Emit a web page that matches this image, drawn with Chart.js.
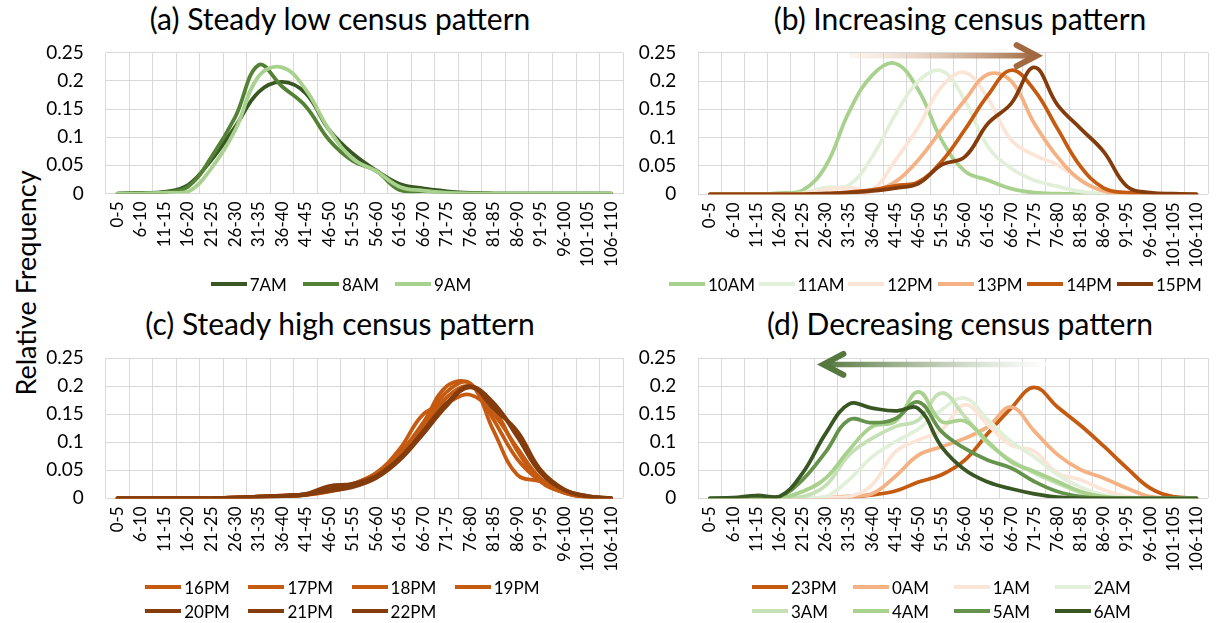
<!DOCTYPE html>
<html>
<head>
<meta charset="utf-8">
<script src="https://cdn.jsdelivr.net/npm/chart.js@4/dist/chart.umd.min.js"></script>
<style>
  html, body { margin:0; padding:0; background:#fff; }
  body { width:1225px; height:623px; overflow:hidden; position:relative; font-family:Lato, "Open Sans", sans-serif; color:#000; }
  canvas { position:absolute; }
  .title { position:absolute; width:640px; text-align:center; font-size:30px; line-height:36px; white-space:nowrap; }
  .ylab { position:absolute; font-size:27px; white-space:nowrap; transform:translate(-50%,-50%) rotate(-90deg); }
  .legend { position:absolute; display:grid; font-size:17px; }
  .li { display:flex; align-items:center; white-space:nowrap; }
  .sw { display:inline-block; width:36px; height:4px; margin-right:3px; }
</style>
</head>
<body>
<div class="title" id="tA">(a) Steady low census pattern</div>
<div class="title" id="tB">(b) Increasing census pattern</div>
<div class="title" id="tC">(c) Steady high census pattern</div>
<div class="title" id="tD">(d) Decreasing census pattern</div>
<div class="ylab" style="left:25px;top:283px;">Relative Frequency</div>
<canvas id="cA"></canvas>
<canvas id="cB"></canvas>
<canvas id="cC"></canvas>
<canvas id="cD"></canvas>
<div class="legend" id="lA"></div>
<div class="legend" id="lB"></div>
<div class="legend" id="lC"></div>
<div class="legend" id="lD"></div>
<script>
// ---------- data ----------
const categories = ['0-5','6-10','11-15','16-20','21-25','26-30','31-35','36-40','41-45','46-50','51-55',
  '56-60','61-65','66-70','71-75','76-80','81-85','86-90','91-95','96-100','101-105','106-110'];
const yTickLabels = ['0','0.05','0.1','0.15','0.2','0.25'];

// (a) Steady low census pattern
const namesA = ['7AM','8AM','9AM'];
const colorsA = ['#385723','#548235','#A9D18E'];
const a7AM = [0,0.001,0.003,0.015,0.06,0.118,0.18,0.198,0.178,0.113,0.071,0.041,0.017,0.009,0.004,0.001,0,0,0,0,0,0];
const a8AM = [0,0.001,0.002,0.012,0.065,0.135,0.228,0.19,0.155,0.095,0.058,0.04,0.006,0.004,0.002,0.001,0,0,0,0,0,0];
const a9AM = [0,0,0.001,0.003,0.045,0.112,0.208,0.224,0.185,0.113,0.062,0.04,0.012,0.005,0.001,0,0,0,0,0,0,0];

// (b) Increasing census pattern
const namesB = ['10AM','11AM','12PM','13PM','14PM','15PM'];
const colorsB = ['#A9D18E','#E2F0D9','#FBE5D6','#F4B183','#C55A11','#843C0C'];
const b10AM = [0,0,0,0.002,0.007,0.05,0.145,0.21,0.231,0.184,0.096,0.041,0.025,0.01,0.003,0.001,0,0,0,0,0,0];
const b11AM = [0,0,0,0,0.002,0.012,0.016,0.066,0.14,0.2,0.218,0.166,0.084,0.046,0.025,0.014,0.005,0.001,0,0,0,0];
const b12PM = [0,0,0,0,0.001,0.008,0.012,0.008,0.06,0.119,0.19,0.215,0.169,0.096,0.069,0.052,0.025,0.005,0,0,0,0];
const b13PM = [0,0,0,0,0,0.001,0.002,0.006,0.022,0.061,0.114,0.166,0.212,0.2,0.125,0.066,0.025,0.006,0.001,0,0,0];
const b14PM = [0,0,0,0,0,0.001,0.004,0.008,0.015,0.022,0.058,0.114,0.175,0.219,0.184,0.116,0.049,0.011,0.003,0.001,0,0];
const b15PM = [0,0,0,0,0,0.001,0.003,0.006,0.011,0.019,0.052,0.066,0.125,0.16,0.224,0.158,0.116,0.075,0.014,0.003,0.001,0];

// (c) Steady high census pattern
const namesC = ['16PM','17PM','18PM','19PM','20PM','21PM','22PM'];
const colorsC = ['#C55A11','#C55A11','#C55A11','#C55A11','#843C0C','#843C0C','#843C0C'];
const c16PM = [0,0,0,0,0,0.001,0.003,0.004,0.006,0.013,0.022,0.04,0.08,0.135,0.2,0.205,0.14,0.07,0.03,0.01,0.002,0];
const c17PM = [0,0,0,0,0,0.001,0.003,0.004,0.006,0.014,0.026,0.045,0.088,0.15,0.17,0.185,0.15,0.09,0.035,0.012,0.003,0];
const c18PM = [0,0,0,0,0,0.001,0.002,0.004,0.006,0.012,0.022,0.042,0.08,0.13,0.19,0.205,0.12,0.042,0.03,0.01,0.002,0];
const c19PM = [0,0,0,0,0,0.001,0.003,0.005,0.007,0.015,0.025,0.045,0.078,0.125,0.18,0.2,0.16,0.085,0.03,0.01,0.002,0];
const c20PM = [0,0,0,0,0,0.001,0.003,0.005,0.008,0.022,0.026,0.04,0.072,0.12,0.17,0.2,0.16,0.12,0.05,0.015,0.004,0];
const c21PM = [0,0,0,0,0,0.001,0.003,0.004,0.006,0.016,0.022,0.038,0.07,0.118,0.168,0.198,0.17,0.11,0.045,0.015,0.003,0];
const c22PM = [0,0,0,0,0,0.001,0.002,0.004,0.007,0.013,0.02,0.036,0.068,0.115,0.165,0.2,0.168,0.115,0.05,0.016,0.004,0];

// (d) Decreasing census pattern
const namesD = ['23PM','0AM','1AM','2AM','3AM','4AM','5AM','6AM'];
const colorsD = ['#C55A11','#F4B183','#FBE5D6','#E2F0D9','#C5E0B4','#A9D18E','#65934B','#385723'];
const d23PM = [0,0,0,0,0,0,0.002,0.006,0.013,0.029,0.042,0.068,0.116,0.161,0.198,0.163,0.13,0.093,0.054,0.018,0.003,0];
const d0AM  = [0,0,0,0,0,0.001,0.004,0.008,0.039,0.077,0.092,0.107,0.128,0.163,0.12,0.078,0.051,0.036,0.018,0.003,0,0];
const d1AM  = [0,0,0,0,0,0.001,0.003,0.024,0.083,0.104,0.122,0.167,0.131,0.095,0.084,0.045,0.033,0.015,0.003,0,0,0];
const d2AM  = [0,0,0,0,0,0.003,0.033,0.074,0.101,0.124,0.158,0.179,0.14,0.101,0.074,0.042,0.02,0.006,0.001,0,0,0];
const d3AM  = [0,0,0,0,0.003,0.023,0.077,0.107,0.128,0.14,0.188,0.146,0.098,0.068,0.045,0.027,0.01,0.002,0,0,0,0];
const d4AM  = [0,0,0,0,0.012,0.036,0.086,0.128,0.137,0.19,0.137,0.138,0.101,0.065,0.048,0.03,0.012,0.003,0,0,0,0];
const d5AM  = [0,0,0,0.003,0.033,0.083,0.14,0.135,0.142,0.172,0.119,0.089,0.068,0.054,0.03,0.012,0.003,0,0,0,0,0];
const d6AM  = [0,0.001,0.005,0.003,0.045,0.116,0.168,0.161,0.156,0.16,0.092,0.051,0.029,0.017,0.008,0.002,0,0,0,0,0,0];

// arrows (in category-index / value units)
const arrowB = { from: 6.0, to: 14.1, y: 0.2447, tail: 'rgba(251,229,214,0.35)', head: '#A1693F' };
const arrowD = { from: 14.5, to: 4.9, y: 0.239, tail: 'rgba(255,255,255,0.6)', head: '#56783F' };

// ---------- layout ----------
const Y_W = 60, X_H = 80;
const panels = {
  A: { canvas:{x:0,   y:0,   w:640, h:290}, plot:{L:105.7, R:627,    T:52.7,  B:193.5} },
  B: { canvas:{x:630, y:0,   w:595, h:290}, plot:{L:698.3, R:1220.7, T:52.7,  B:194.3} },
  C: { canvas:{x:0,   y:300, w:640, h:290}, plot:{L:105.7, R:627,    T:358.3, B:498.3} },
  D: { canvas:{x:630, y:300, w:595, h:290}, plot:{L:698.3, R:1220.7, T:358.3, B:498.3} }
};

const arrowPlugin = {
  id: 'arrow',
  afterDatasetsDraw(chart, args, opts) {
    if (!opts || opts.y === undefined) return;
    const xs = chart.scales.x, ys = chart.scales.y, ctx = chart.ctx;
    const x1 = xs.getPixelForValue(opts.from), x2 = xs.getPixelForValue(opts.to);
    const y = ys.getPixelForValue(opts.y);
    const dir = x2 > x1 ? 1 : -1;
    ctx.save();
    const g = ctx.createLinearGradient(x1, 0, x2, 0);
    g.addColorStop(0, opts.tail);
    g.addColorStop(1, opts.head);
    ctx.strokeStyle = g;
    ctx.lineWidth = 5.5;
    ctx.lineCap = 'butt';
    ctx.beginPath(); ctx.moveTo(x1, y); ctx.lineTo(x2 - dir * 3, y); ctx.stroke();
    ctx.strokeStyle = opts.head;
    ctx.lineWidth = 6;
    ctx.lineCap = 'round'; ctx.lineJoin = 'miter';
    ctx.beginPath();
    ctx.moveTo(x2 - dir * 20, y - 10.5);
    ctx.lineTo(x2, y);
    ctx.lineTo(x2 - dir * 20, y + 10.5);
    ctx.stroke();
    ctx.restore();
  }
};

function buildChart(key, names, colors, values, arrow) {
  const p = panels[key];
  const cv = document.getElementById('c' + key);
  cv.width = p.canvas.w; cv.height = p.canvas.h;
  cv.style.left = p.canvas.x + 'px'; cv.style.top = p.canvas.y + 'px';
  const datasets = names.map((n, i) => ({
    label: n, data: values[i], borderColor: colors[i], backgroundColor: colors[i],
    borderWidth: 3.75, pointRadius: 0, tension: 0.4, fill: false,
    borderJoinStyle: 'round', borderCapStyle: 'round', order: -i
  }));
  return new Chart(cv, {
    type: 'line',
    data: { labels: categories, datasets },
    options: {
      responsive: false, animation: false, events: [],
      layout: { padding: {
        left: p.plot.L - p.canvas.x - Y_W,
        right: p.canvas.x + p.canvas.w - p.plot.R,
        top: p.plot.T - p.canvas.y,
        bottom: p.canvas.y + p.canvas.h - p.plot.B - X_H } },
      plugins: { legend: { display: false }, title: { display: false }, tooltip: { enabled: false },
                 arrow: arrow || {} },
      scales: {
        x: { offset: true,
             grid: { color: '#D9D9D9', lineWidth: 1, drawTicks: false, offset: true },
             border: { display: false },
             ticks: { autoSkip: false, minRotation: 90, maxRotation: 90, padding: 8, color: '#000',
                      font: { family: 'Lato', size: 17 } },
             afterFit: s => { s.height = X_H; } },
        y: { min: 0, max: 0.25,
             grid: { color: '#D9D9D9', lineWidth: 1, drawTicks: false },
             border: { display: false },
             ticks: { stepSize: 0.05, padding: 22, color: '#000', font: { family: 'Lato', size: 19 },
                      callback: (v, i) => yTickLabels[i] },
             afterFit: s => { s.width = Y_W; } }
      }
    },
    plugins: [arrowPlugin]
  });
}

function buildLegend(chart, id, x, yCenter, cols, colW, rowH) {
  const el = document.getElementById(id);
  el.style.left = x + 'px';
  el.style.top = (yCenter - rowH / 2) + 'px';
  el.style.gridTemplateColumns = `repeat(${cols}, ${colW}px)`;
  el.style.gridAutoRows = rowH + 'px';
  chart.data.datasets.forEach(ds => {
    const item = document.createElement('div'); item.className = 'li';
    const sw = document.createElement('span'); sw.className = 'sw'; sw.style.background = ds.borderColor;
    const tx = document.createElement('span'); tx.textContent = ds.label;
    item.append(sw, tx); el.append(item);
  });
}

function placeTitle(id, cx, cy) {
  const el = document.getElementById(id);
  el.style.left = (cx - 320) + 'px';
  el.style.top = (cy - 18) + 'px';
}

const chA = buildChart('A', namesA, colorsA, [a7AM, a8AM, a9AM]);
const chB = buildChart('B', namesB, colorsB, [b10AM, b11AM, b12PM, b13PM, b14PM, b15PM], arrowB);
const chC = buildChart('C', namesC, colorsC, [c16PM, c17PM, c18PM, c19PM, c20PM, c21PM, c22PM]);
const chD = buildChart('D', namesD, colorsD, [d23PM, d0AM, d1AM, d2AM, d3AM, d4AM, d5AM, d6AM], arrowD);

buildLegend(chA, 'lA', 210.7, 284, 3, 92.2, 25);
buildLegend(chB, 'lB', 669, 284, 6, 89.6, 25);
buildLegend(chC, 'lC', 145.2, 587, 4, 103.2, 24);
buildLegend(chD, 'lD', 752, 587, 4, 100.9, 24);

placeTitle('tA', 340, 18);
placeTitle('tB', 960, 18);
placeTitle('tC', 340, 323);
placeTitle('tD', 960, 323);
</script>
</body>
</html>
